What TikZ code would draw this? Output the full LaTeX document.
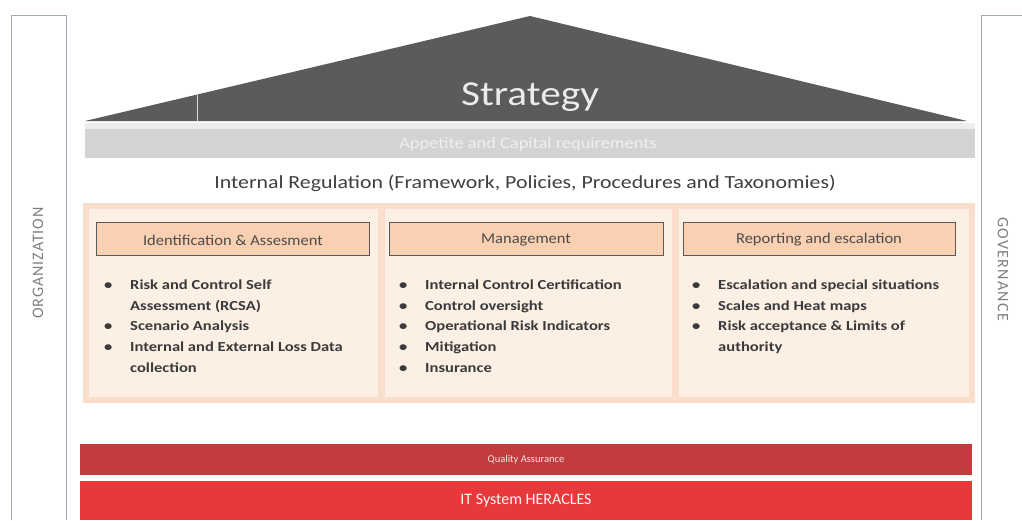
\documentclass[tikz,border=0pt]{standalone}
\usepackage{fontspec}
\setmainfont{Carlito}
\usetikzlibrary{positioning}
\definecolor{roof}{HTML}{5B5B5B}
\definecolor{band}{HTML}{D3D3D3}
\definecolor{outer}{HTML}{F9DFCB}
\definecolor{colbg}{HTML}{FCEFE4}
\definecolor{head}{HTML}{F9D0B1}
\definecolor{qa}{HTML}{C23B3D}
\definecolor{itred}{HTML}{E9383C}
\definecolor{frame}{HTML}{9EAABA}
\definecolor{txt}{HTML}{3A3A3A}
\newcommand{\wide}[1]{\addfontfeatures{FakeStretch=#1}}
\tikzset{
  framebox/.style={draw=frame, line width=0.8pt},
  colbox/.style={fill=colbg, draw=none},
  headbox/.style={fill=head, draw=black!65, line width=0.9pt},
  headtxt/.style={font=\fontsize{15}{18}\selectfont\wide{1.1}, text=black!70},
  bullets/.style={anchor=north west, inner sep=0pt, font=\fontsize{13.8}{20.6}\selectfont\bfseries\wide{1.2}, text=txt},
  sidetxt/.style={font=\fontsize{16}{18}\selectfont\addfontfeatures{LetterSpace=6}, text=black!50},
}
\newcommand{\blist}[1]{\begin{tabular}{@{}p{26pt}@{}l@{}}#1\end{tabular}}
\begin{document}
\begin{tikzpicture}[x=1pt,y=-1pt]
\useasboundingbox (0,0) rectangle (1022,520);
\fill[white] (0,0) rectangle (1022,520);
% side frames
\draw[framebox] (11,520) -- (11,15) -- (66,15) -- (66,520);
\draw[framebox] (1022,15) -- (981,15) -- (981,520);
\node[sidetxt, rotate=90] (org) at (38,263) {ORGANIZATION};
\node[sidetxt, rotate=-90] (gov) at (1003,269) {\addfontfeatures{LetterSpace=8}GOVERNANCE};
% roof
\fill[roof] (85,121) -- (530,16) -- (967,121) -- cycle;
\draw[white!80!roof, line width=1pt] (197,95) -- (197,121);
\node[font=\fontsize{35}{38}\selectfont\wide{1.18}, text=white!92!black] (strat) at (530,97) {Strategy};
% appetite band
\fill[band] (85,129) rectangle (975,158);
\fill[white!60!band] (85,123) rectangle (975,129);
\node[font=\fontsize{16}{18}\selectfont\wide{1.15}, text=white!94!black] (app) at (528,144) {Appetite and Capital requirements};
% internal regulation
\node[font=\fontsize{18.5}{22}\selectfont\wide{1.18}, text=black!75] (reg) at (525,183) {Internal Regulation (Framework, Policies, Procedures and Taxonomies)};
% outer region
\fill[outer] (83,203) rectangle (975,403);
\fill[colbox] (89,209) rectangle (378,397);
\fill[colbox] (385,209) rectangle (672,397);
\fill[colbox] (679,209) rectangle (969,397);
% headers
\draw[headbox] (96,222) rectangle (369,255);
\node[headtxt] (h1) at (233,240) {Identification \& Assesment};
\draw[headbox] (389,222) rectangle (663,255);
\node[headtxt] (h2) at (526,240) {Management};
\draw[headbox] (683,222) rectangle (955,255);
\node[headtxt] (h3) at (819,240) {Reporting and escalation};
% bullet lists
\node[bullets] (l1) at (104,275) {\blist{%
\textbullet & Risk and Control Self\\
 & Assessment (RCSA)\\
\textbullet & Scenario Analysis\\
\textbullet & Internal and External Loss Data\\
 & collection}};
\node[bullets] (l2) at (399,275) {\blist{%
\textbullet & Internal Control Certification\\
\textbullet & Control oversight\\
\textbullet & Operational Risk Indicators\\
\textbullet & Mitigation\\
\textbullet & Insurance}};
\node[bullets] (l3) at (692,275) {\blist{%
\textbullet & Escalation and special situations\\
\textbullet & Scales and Heat maps\\
\textbullet & Risk acceptance \& Limits of\\
 & authority}};
% bottom bands
\fill[qa] (80,444) rectangle (972,475);
\node[font=\fontsize{10.5}{13}\selectfont, text=white!85!qa] (qat) at (526,460) {Quality Assurance};
\fill[itred] (80,481) rectangle (972,520);
\node[font=\fontsize{16}{19}\selectfont, text=white!95!itred] (itt) at (526,501) {IT System HERACLES};
\end{tikzpicture}
\end{document}
